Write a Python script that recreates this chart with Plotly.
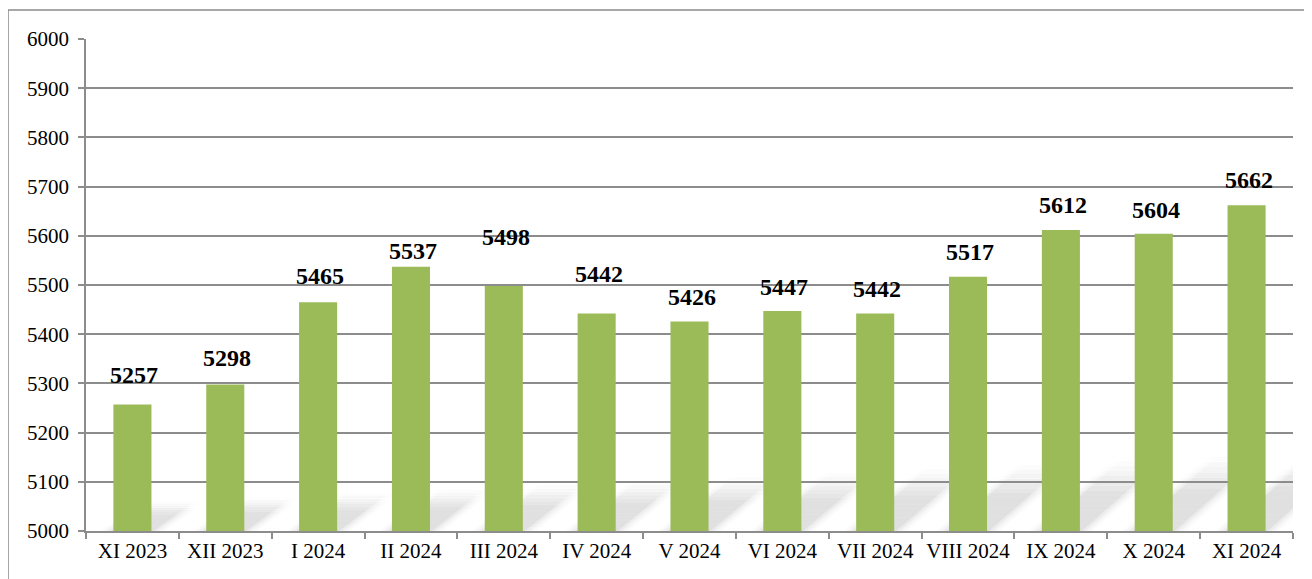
import plotly.graph_objects as go

categories = ["XI 2023", "XII 2023", "I 2024", "II 2024", "III 2024", "IV 2024", "V 2024",
              "VI 2024", "VII 2024", "VIII 2024", "IX 2024", "X 2024", "XI 2024"]
values = [5257, 5298, 5465, 5537, 5498, 5442, 5426, 5447, 5442, 5517, 5612, 5604, 5662]
y_ticks = [5000, 5100, 5200, 5300, 5400, 5500, 5600, 5700, 5800, 5900, 6000]

# label offsets above bar tops (pixels) - styling only
label_dy = [30, 26, 26, 16, 49, 40, 24, 24, 25, 25, 25, 24, 25]

BAR_COLOR = "#9BBB59"
GRID = "#8C8C8C"
FONT = "Liberation Serif, Times New Roman, serif"

fig = go.Figure()
fig.add_trace(go.Bar(x=categories, y=values, marker=dict(color=BAR_COLOR, line=dict(width=0)),
                     hoverinfo="x+y"))

shapes = []
# soft diagonal shadows behind bars
n = len(categories)
half = 0.205
for i in range(n):
    frac = i / (n - 1)
    L = 0.45 + 0.5 * frac
    H = 60 + 100 * frac
    segs = 14
    for blur, alpha in [(0.14, 0.015), (0.10, 0.025), (0.06, 0.035), (0.02, 0.05)]:
        for s in range(segs):
            t0 = s / segs
            t1 = (s + 1) / segs
            tm = (t0 + t1) / 2
            a = alpha * (1.0 if tm < 0.5 else max(0.0, (1 - tm) / 0.5))
            x0l = i - half - blur + L * t0
            x0r = i + half + blur + L * t0
            x1l = i - half - blur + L * t1
            x1r = i + half + blur + L * t1
            y0 = 5000 + H * t0
            y1 = 5000 + H * t1
            path = (f"M {x0l},{y0} L {x0r},{y0} L {x1r},{y1} L {x1l},{y1} Z")
            shapes.append(dict(type="path", path=path, xref="x", yref="y",
                               fillcolor=f"rgba(0,0,0,{a:.3f})", line=dict(width=0),
                               layer="below"))

# outer chart border
shapes.append(dict(type="rect", xref="paper", yref="paper", x0=-0.0646, y0=-0.3, x1=1.2, y1=1.0589,
                   line=dict(color="#8C8C8C", width=1.5), fillcolor="rgba(0,0,0,0)", layer="above"))

annotations = []
for c, v, dy in zip(categories, values, label_dy):
    annotations.append(dict(x=c, y=v, text=f"<b>{v}</b>", showarrow=False, yshift=dy, xshift=2,
                            yanchor="middle", xanchor="center",
                            font=dict(family=FONT, size=24, color="black")))

fig.update_layout(
    width=1304, height=571,
    margin=dict(l=78, r=19, t=31, b=48),
    paper_bgcolor="white", plot_bgcolor="white",
    showlegend=False,
    bargap=0.59,
    shapes=shapes,
    annotations=annotations,
    font=dict(family=FONT, size=21, color="black"),
)
fig.update_xaxes(
    type="category", showgrid=False, showline=True, linecolor=GRID, linewidth=1.5,
    ticks="outside", tickson="boundaries", ticklen=6, tickcolor=GRID, tickwidth=1.5,
    tickfont=dict(family=FONT, size=21, color="black"), range=[-0.5, n - 0.5],
    tickangle=0, automargin=False,
)
fig.update_yaxes(
    range=[5000, 6000], tickvals=y_ticks, showgrid=True, gridcolor=GRID, gridwidth=1.5,
    showline=True, linecolor=GRID, linewidth=1.5, ticks="outside", ticklen=6,
    tickcolor=GRID, tickwidth=1.5, tickfont=dict(family=FONT, size=21, color="black"),
    zeroline=False, automargin=False, ticklabelstandoff=5,
)

fig.write_html("out.html")
